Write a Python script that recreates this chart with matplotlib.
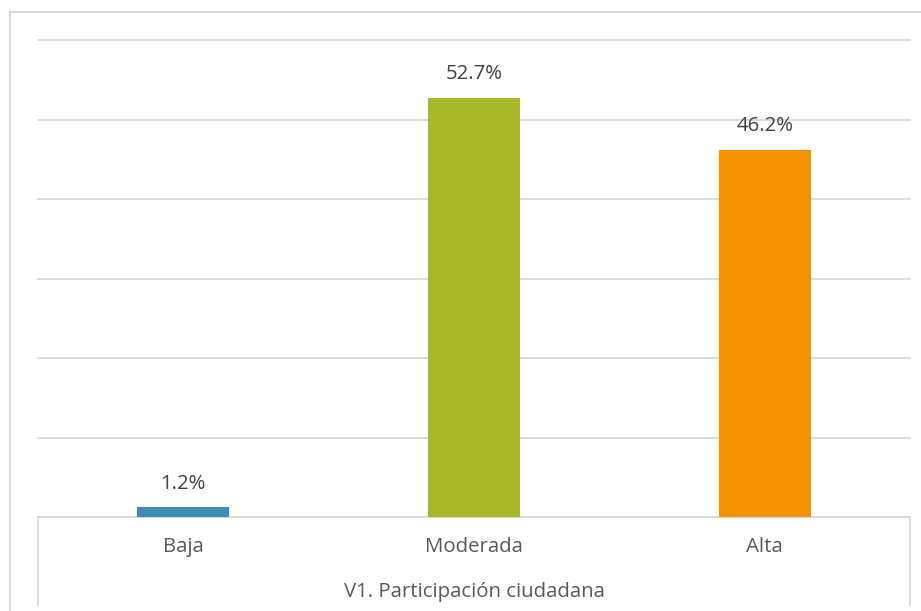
import matplotlib.pyplot as plt
from matplotlib.lines import Line2D

categories = ['Baja', 'Moderada', 'Alta']
values = [1.2, 52.7, 46.2]
colors = ['#418AB3', '#A6B727', '#F69200']
group_label = 'V1. Participación ciudadana'

plt.rcParams['font.family'] = ['Open Sans', 'DejaVu Sans']

W, H = 921, 611
fig = plt.figure(figsize=(W / 100, H / 100), dpi=100)
ax = fig.add_axes([38 / W, 1 - 517 / H, (910 - 38) / W, (517 - 40) / H])

x = range(len(categories))
ax.bar(x, values, width=0.317, color=colors, zorder=3)
for xi, v in zip(x, values):
    ax.annotate('{:.1f}%'.format(v), (xi, v), xytext=(0, 17), textcoords='offset points',
                ha='center', va='center', fontsize=14.7, color='#404040')

ax.set_xlim(-0.5, 2.5)
ax.set_ylim(0, 60)
ax.set_yticks(range(0, 61, 10))
ax.yaxis.grid(True, color='#d9d9d9', lw=1.3)
for gl in ax.get_ygridlines():
    gl.set_clip_on(False)
ax.set_axisbelow(True)
ax.tick_params(left=False, labelleft=False, bottom=False)
for s in ['left', 'right', 'top']:
    ax.spines[s].set_visible(False)
ax.spines['bottom'].set_color('#d9d9d9')
ax.spines['bottom'].set_linewidth(1.3)
ax.set_xticks(list(x))
ax.set_xticklabels(categories, fontsize=14.7, color='#595959')
ax.tick_params(axis='x', pad=11)

# category group box
depth = (605 - 517) / (517 - 40)
for xx in (0, 1):
    ax.add_line(Line2D([xx, xx], [0, -depth], transform=ax.transAxes,
                       color='#d9d9d9', lw=1.3, clip_on=False))
ax.text(0.5, -(592 - 517) / (517 - 40), group_label, transform=ax.transAxes,
        ha='center', va='center', fontsize=14.7, color='#595959')

# outer chart border (cropped)
fig.add_artist(Line2D([10 / W, 10 / W], [0, 1 - 12 / H], color='#d9d9d9', lw=1.5))
fig.add_artist(Line2D([10 / W, 1], [1 - 12 / H, 1 - 12 / H], color='#d9d9d9', lw=1.5))

fig.savefig('out.png', dpi=100)
